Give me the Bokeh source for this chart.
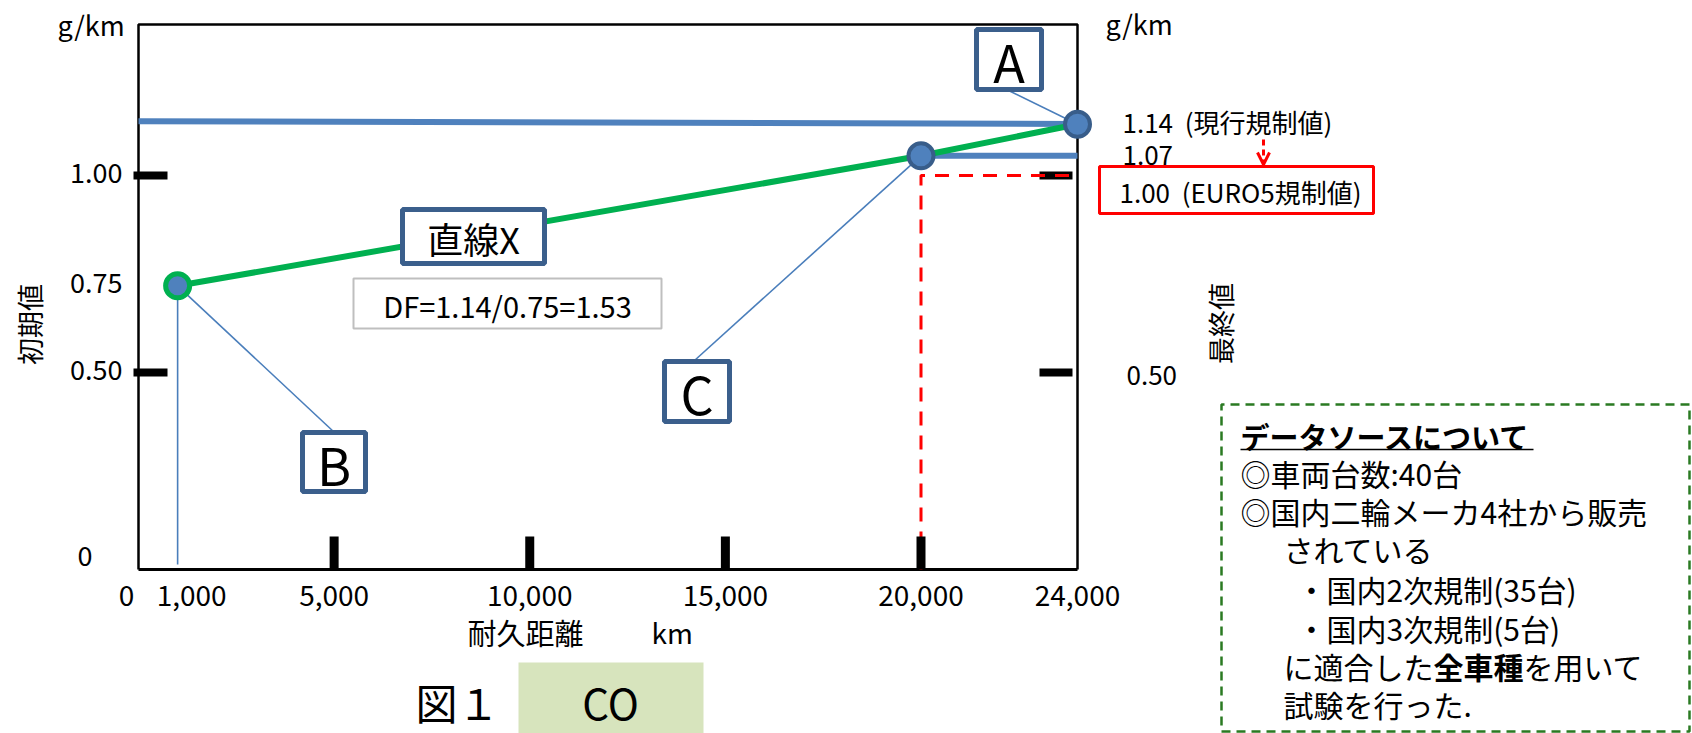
from bokeh.plotting import figure
from bokeh.models import Range1d, Arrow, OpenHead
from bokeh.core.properties import value
from bokeh.embed import file_html
from bokeh.resources import INLINE

# ---------------- data ----------------
distance_km = [1000, 20000, 24000]          # points B, C, A
co_value = [0.72, 1.05, 1.13]               # g/km (as drawn)
point_names = ["B", "C", "A"]
current_limit_x = [0, 24000]
current_limit_y = [1.138, 1.131]            # 1.14 現行規制値 line
final_line_x = [20000, 24000]
final_line_y = [1.05, 1.05]                 # 1.07 line
euro5_limit = 1.0
x_max = 24000
xtick_values = [0, 1000, 5000, 10000, 15000, 20000, 24000]
xtick_labels = ["0", "1,000", "5,000", "10,000", "15,000", "20,000", "24,000"]
major_xticks = [5000, 10000, 15000, 20000]
left_tick_values = [1.0, 0.5]
right_tick_values = [1.0, 0.5]
left_label_values = [1.0, 0.72, 0.5, 0.0]
left_label_texts = ["1.00", "0.75", "0.50", "0"]

# ---------------- layout helpers (picture pixel -> data) ----------------
W, H = 1692, 733
PX0, PX1 = 138, 1077
PY0, PY1 = 569, 175


def dx(px):
    return (px - PX0) * x_max / (PX1 - PX0)


def dy(py):
    return (PY0 - py) / (PY0 - PY1)


FONT = value("Noto Sans CJK JP")
BOX_BLUE = "#3b5f8c"
BLUE = "#4f81bd"
THIN_BLUE = "#4a7ebb"
GREEN = "#00b050"
NB = "\u00a0"

p = figure(width=W, height=H, output_backend="svg", toolbar_location=None,
           x_range=Range1d(dx(0), dx(W)), y_range=Range1d(dy(H), dy(0)),
           min_border=0, x_axis_type=None, y_axis_type=None,
           outline_line_color=None, background_fill_color="white",
           border_fill_color="white")
p.grid.visible = False


def txt(x, y, s, size, align="left", angle=0, bold=False, color="black", x_offset=0):
    p.text(x=[x], y=[y], text=[s], text_font=FONT, text_font_size=f"{size}px",
           text_align=align, text_baseline="middle", angle=angle, text_color=color,
           text_font_style="bold" if bold else "normal", x_offset=x_offset)


def box(l, t, r, b, line_color, line_width, fill="white"):
    p.quad(left=[dx(l)], right=[dx(r)], top=[dy(t)], bottom=[dy(b)],
           fill_color=fill, line_color=line_color, line_width=line_width)


# CO box and data-source dashed frame
p.quad(left=[dx(518)], right=[dx(703)], top=[dy(662)], bottom=[dy(760)],
       fill_color="#d7e4bd", line_color=None)
p.line(x=[dx(1689), dx(1221), dx(1221), dx(1689), dx(1689)],
       y=[dy(404), dy(404), dy(731), dy(731), dy(404)],
       line_color="#2a7a22", line_width=2.5, line_dash="9 6")

# plot frame
top_val = dy(24)
p.line(x=[0, 0, x_max, x_max], y=[0, top_val, top_val, 0], line_color="black", line_width=2.5)
p.line(x=[0, x_max], y=[0, 0], line_color="black", line_width=3)

# ticks on the left / right
p.segment(x0=[dx(133)] * 2, x1=[dx(167)] * 2, y0=left_tick_values, y1=left_tick_values,
          line_color="black", line_width=8)
p.segment(x0=[dx(1039)] * 2, x1=[dx(1072)] * 2, y0=right_tick_values, y1=right_tick_values,
          line_color="black", line_width=8)

# red dashed EURO5 guide
p.line(x=[distance_km[1], distance_km[1], dx(1073)], y=[0, euro5_limit, euro5_limit],
       line_color="#ff0000", line_width=3, line_dash="14 10")

# bottom ticks (drawn over the red guide)
p.segment(x0=major_xticks, x1=major_xticks, y0=[0] * 4, y1=[dy(536)] * 4,
          line_color="black", line_width=9)

# thin blue lines
p.line(x=[distance_km[0], distance_km[0]], y=[co_value[0], dy(564)],
       line_color=THIN_BLUE, line_width=1.6)
p.segment(x0=[dx(1006), dx(334), dx(694)], y0=[dy(89), dy(432), dy(360)],
          x1=[distance_km[2], distance_km[0], distance_km[1]],
          y1=[co_value[2], co_value[0], co_value[1]],
          line_color=THIN_BLUE, line_width=1.6)

# thick lines
p.line(x=current_limit_x, y=current_limit_y, line_color=BLUE, line_width=6)
p.line(x=final_line_x, y=final_line_y, line_color=BLUE, line_width=6)
p.line(x=distance_km, y=co_value, line_color=GREEN, line_width=6)

# markers
p.scatter(x=distance_km[1:], y=co_value[1:], size=25, fill_color=BLUE,
          line_color="#385d8a", line_width=4)
p.scatter(x=[distance_km[0]], y=[co_value[0]], size=24, fill_color=BLUE,
          line_color=GREEN, line_width=5)

# callout boxes
box(976, 29, 1041, 89, BOX_BLUE, 5)
txt(dx(1008.5), dy(60), "A", 52, align="center")
box(302, 432, 365, 491, BOX_BLUE, 5)
txt(dx(333.5), dy(463), "B", 52, align="center")
box(664, 361, 729, 421, BOX_BLUE, 5)
txt(dx(696.5), dy(392), "C", 52, align="center")
box(402, 209, 544, 263, BOX_BLUE, 5)
txt(dx(473), dy(237), "直線X", 36, align="center")
box(353, 278, 661, 328, "#bfbfbf", 2)
txt(dx(507), dy(304), "DF=1.14/0.75=1.53", 29, align="center")

# axis tick labels
for v, s in zip(left_label_values, left_label_texts):
    if s == "0":
        txt(dx(92), dy(555), s, 27, align="right")
    else:
        txt(dx(122), v + (3 / (PY0 - PY1)), s, 27, align="right")
for v, s in zip(xtick_values, xtick_labels):
    off = -12 if s == "0" else (14 if s == "1,000" else 0)
    txt(v, dy(595), s, 28, align="center", x_offset=off)

# units and titles
txt(dx(57), dy(24), "g/km", 27)
txt(dx(1105), dy(23), "g/km", 27)
txt(dx(467), dy(631), "耐久距離", 29)
txt(dx(651), dy(631), "km", 28)
txt(dx(29), dy(324), "初期値", 27, align="center", angle=1.5708)
txt(dx(1220), dy(323), "最終値", 27, align="center", angle=1.5708)

# right side labels
txt(dx(1122), dy(121), "1.14" + NB * 2 + "(現行規制値)", 26)
txt(dx(1122), dy(155), "1.07", 26)
box(1099, 166, 1373, 213, "#ff0000", 3)
txt(dx(1119), dy(191), "1.00" + NB * 2 + "(EURO5規制値)", 26)
txt(dx(1126), dy(375), "0.50", 26)
p.add_layout(Arrow(end=OpenHead(size=12, line_color="#ff0000", line_width=3),
                   x_start=dx(1263), y_start=dy(139), x_end=dx(1263), y_end=dy(164),
                   line_color="#ff0000", line_width=3, line_dash="6 4"))

# figure caption
txt(dx(415), dy(701), "図１", 42)
txt(dx(610), dy(701), "CO", 42, align="center")

# data source note
FS = 30
lines = [
    (1240, 435, "データソースについて", True, 29),
    (1240, 472, "◎車両台数:40台", False, FS),
    (1240, 510, "◎国内二輪メーカ4社から販売", False, FS),
    (1283, 548, "されている", False, FS),
    (1296, 588, "・国内2次規制(35台)", False, FS),
    (1296, 627, "・国内3次規制(5台)", False, FS),
    (1283, 703, "試験を行った.", False, FS),
]
for lx, ly, s, b, fs in lines:
    txt(dx(lx), dy(ly), s, fs, bold=b)
p.line(x=[dx(1240), dx(1533)], y=[dy(449), dy(449)], line_color="black", line_width=1.5)
txt(dx(1283), dy(665), "に適合した", FS)
txt(dx(1283), dy(665), "全車種", FS, bold=True, x_offset=5 * FS)
txt(dx(1283), dy(665), "を用いて", FS, x_offset=8 * FS)

open("out.html", "w").write(file_html(p, INLINE))
